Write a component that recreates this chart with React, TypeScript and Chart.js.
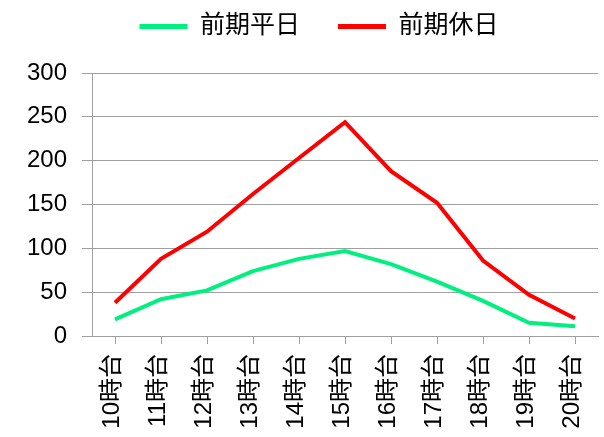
import React, { useEffect, useRef } from "react";
import { Chart, registerables } from "chart.js";

Chart.register(...registerables);

const hours = ["10時台", "11時台", "12時台", "13時台", "14時台", "15時台", "16時台", "17時台", "18時台", "19時台", "20時台"];
const weekdayValues = [19, 42, 52, 74, 88, 97, 82, 62, 40, 15, 11];
const holidayValues = [38, 88, 119, 162, 203, 244, 188, 152, 86, 47, 20];
const yTicks = [0, 50, 100, 150, 200, 250, 300];

const FONT = "'Liberation Sans', Arial, 'Noto Sans CJK JP', sans-serif";
const GRID = "#A0A0A0";
const GREEN = "rgb(0,240,128)";
const RED = "#FF0000";

// nudges the legend row right and up after layout
const legendOffset = {
  id: "legendOffset",
  afterLayout(c: any) {
    const lg = c.legend;
    if (!lg) return;
    lg.left += 20;
    lg.right += 20;
    lg.top -= 24;
    lg.bottom -= 24;
  },
};

export default function App() {
  const ref = useRef<HTMLCanvasElement | null>(null);

  useEffect(() => {
    document.body.style.margin = "0";
    const canvas = ref.current;
    if (!canvas) return;
    const chart = new Chart(canvas, {
      type: "line",
      data: {
        labels: hours,
        datasets: [
          {
            label: "前期平日",
            data: weekdayValues,
            borderColor: GREEN,
            backgroundColor: GREEN,
            borderWidth: 4,
            pointRadius: 0,
            tension: 0,
          },
          {
            label: "前期休日",
            data: holidayValues,
            borderColor: RED,
            backgroundColor: RED,
            borderWidth: 4,
            pointRadius: 0,
            tension: 0,
          },
        ],
      },
      plugins: [legendOffset],
      options: {
        responsive: false,
        animation: false,
        layout: { padding: { left: 0, right: 6, top: 0, bottom: 0 } },
        plugins: {
          tooltip: { enabled: false },
          legend: {
            position: "top",
            labels: {
              color: "#000",
              font: { family: FONT, size: 25 },
              boxWidth: 48,
              boxHeight: 5,
              padding: 38,
              generateLabels: (c) =>
                c.data.datasets.map((ds, i) => ({
                  text: ds.label as string,
                  fillStyle: ds.borderColor as string,
                  strokeStyle: ds.borderColor as string,
                  lineWidth: 0,
                  hidden: false,
                  datasetIndex: i,
                  fontColor: "#000",
                })),
            },
          },
        },
        scales: {
          x: {
            offset: true,
            border: { display: true, color: GRID, width: 1 },
            grid: {
              display: true,
              drawOnChartArea: false,
              drawTicks: true,
              tickLength: 8,
              color: GRID,
            },
            ticks: {
              color: "#000",
              font: { family: FONT, size: 24 },
              minRotation: 90,
              maxRotation: 90,
              padding: 10,
              labelOffset: -3,
              autoSkip: false,
            },
            afterFit: (s: any) => {
              s.height = 101;
              s.paddingLeft = 0;
              s.paddingRight = 0;
            },
          },
          y: {
            min: 0,
            max: 300,
            afterBuildTicks: (s: any) => {
              s.ticks = yTicks.map((v) => ({ value: v }));
            },
            border: { display: true, color: GRID, width: 1 },
            grid: { color: GRID, lineWidth: 1, tickLength: 10 },
            ticks: {
              color: "#000",
              font: { family: FONT, size: 24 },
              padding: 15,
            },
            afterFit: (s: any) => {
              s.width = 92;
              s.paddingTop = 0;
              s.paddingBottom = 0;
            },
          },
        },
      },
    });
    return () => chart.destroy();
  }, []);

  return (
    <div style={{ width: 604, height: 437, background: "#fff" }}>
      <canvas ref={ref} width={604} height={437} />
    </div>
  );
}
